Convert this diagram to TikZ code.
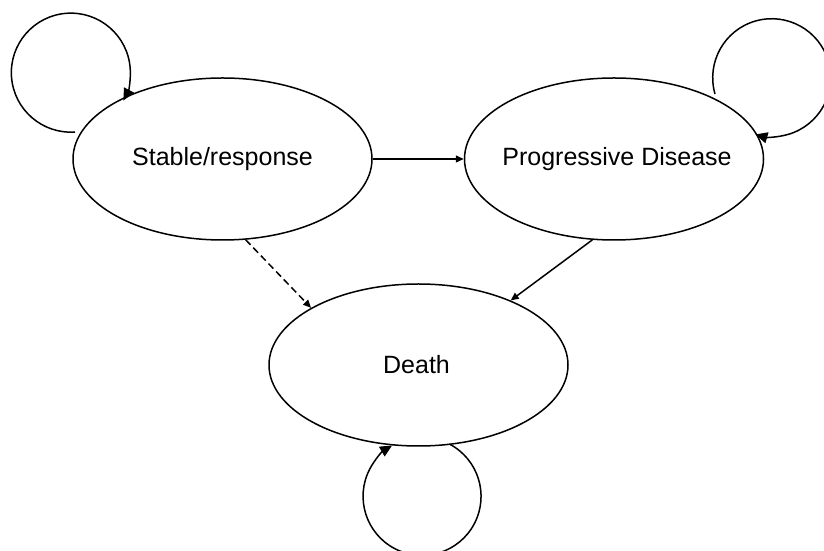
\documentclass[tikz,border=0pt]{standalone}
\usepackage{fontspec}
\setmainfont{Liberation Sans}
\usetikzlibrary{shapes.geometric,arrows.meta}
\begin{document}
\begin{tikzpicture}[x=1pt,y=1pt,
  state/.style={draw,ellipse,line width=1.5pt,inner sep=0pt,minimum width=299pt,minimum height=162pt},
  txt/.style={font=\fontsize{25}{30}\selectfont,inner sep=0pt},
  conn/.style={line width=1.5pt,-{Triangle[length=8pt,width=7pt]}},
  loopconn/.style={line width=1.5pt,-{Triangle[length=12pt,width=11pt]}}]
\useasboundingbox (0,0) rectangle (824,551);
\node[state,label={[txt]center:Stable/response}] (S) at (222.5,392) {};
\node[state,label={[txt,xshift=3pt]center:Progressive Disease}] (P) at (614,392) {};
\node[state,label={[txt,xshift=-2pt]center:Death}] (D) at (418.5,186) {};
\draw[conn] (S.east) -- (P.west);
\draw[conn,dash pattern=on 7pt off 4pt] (S.-74.8) -- (D.152.7);
\draw[conn] (P.-105.1) -- (D.35.2);
\coordinate (ls) at (75,419);
\coordinate (lp) at (715,457);
\coordinate (ld) at (449.3,107);
\draw[loopconn] (ls) arc[start angle=274, end angle=-28, radius=59.5];
\draw[loopconn] (lp) arc[start angle=196, end angle=-106, radius=59];
\draw[loopconn] (ld) arc[start angle=62.5, end angle=-239.5, radius=59];
\end{tikzpicture}
\end{document}
